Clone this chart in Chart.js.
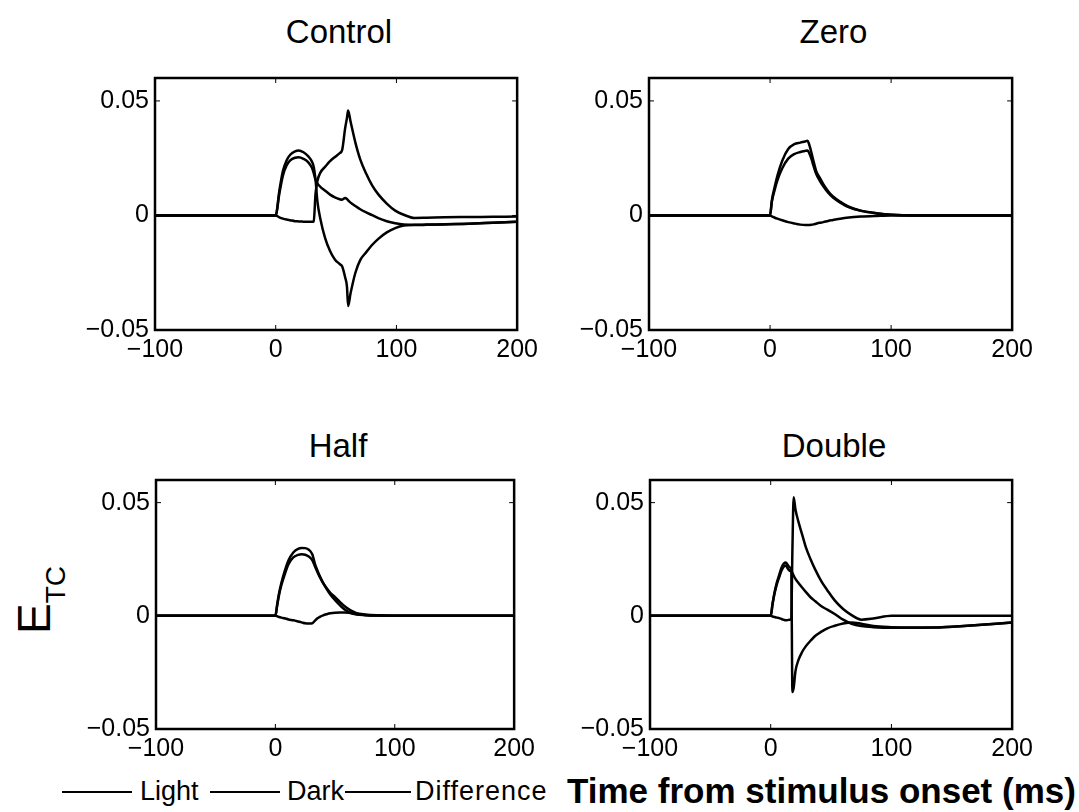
<!DOCTYPE html>
<html>
<head>
<meta charset="utf-8">
<script src="https://cdn.jsdelivr.net/npm/chart.js@4.4.1/dist/chart.umd.min.js"></script>
<style>
	body {
		margin: 0;
		width: 1079px;
		height: 812px;
		background: #fff;
		position: relative;
		overflow: hidden;
		font-family: 'Liberation Sans', Arial, Helvetica, sans-serif;
		color: #000;
	}
	canvas { position: absolute; }
	.title { position: absolute; width: 300px; text-align: center; font-size: 33px; line-height: 36px; }
	.ylab { position: absolute; left: -6px; top: 570px; width: 80px; height: 60px; line-height: 60px; text-align: center; transform: rotate(-90deg); white-space: nowrap; }
	.leg-line { position: absolute; height: 0; border-top: 2px solid #000; }
	.leg-text { position: absolute; font-size: 27px; line-height: 30px; white-space: nowrap; }
	.xtitle { position: absolute; font-size: 35px; font-weight: bold; line-height: 40px; white-space: nowrap; }
</style>
</head>
<body>
<div class="ylab"><span style="font-size:46px">E</span><span style="font-size:28px;position:relative;top:15px">TC</span></div>

<div class="leg-line" style="left:62px;top:791px;width:70px"></div>
<div class="leg-text" style="left:140px;top:776px">Light</div>
<div class="leg-line" style="left:210px;top:791px;width:70px"></div>
<div class="leg-text" style="left:287px;top:776px">Dark</div>
<div class="leg-line" style="left:345px;top:791px;width:66px"></div>
<div class="leg-text" style="left:415px;top:776px;letter-spacing:1px">Difference</div>
<div class="xtitle" style="left:567px;top:771px">Time from stimulus onset (ms)</div>

<script>
// axes
const xTicks = [-100, 0, 100, 200]
const xTickLabels = ['−100', '0', '100', '200']
const yTicks = [-0.05, 0, 0.05]
const yTickLabels = ['−0.05', '0', '0.05']
const seriesNames = ['Light', 'Dark', 'Difference']

// Control
const controlTime = [-100, 0, 3, 6, 9, 12, 16, 19, 23, 27, 30, 31.5, 33, 34.5, 37, 41, 45, 49, 53, 55, 57.5, 59, 60, 62, 66, 70, 75, 80, 85, 92, 99, 106, 115, 125, 140, 160, 180, 200]
const controlLight = [0, 0, 0.0095, 0.0175, 0.0218, 0.0240, 0.0252, 0.0254, 0.0247, 0.0232, 0.0208, 0.0185, 0.0155, 0.0140, 0.0125, 0.0108, 0.0091, 0.0079, 0.0071, 0.0069, 0.0076, 0.0072, 0.0066, 0.0056, 0.0041, 0.0027, 0.0013, 0.0001, -0.0012, -0.0025, -0.0034, -0.0040, -0.0042, -0.0041, -0.0039, -0.0036, -0.0032, -0.0028]
const controlDark = [0, 0, -0.0008, -0.0014, -0.0018, -0.0021, -0.0025, -0.0026, -0.0027, -0.0028, -0.0028, -0.0026, 0.0095, 0.0150, 0.0187, 0.0213, 0.0237, 0.0255, 0.0272, 0.0285, 0.0380, 0.0425, 0.0458, 0.0410, 0.0318, 0.0245, 0.0182, 0.0130, 0.0092, 0.0052, 0.0021, 0.0003, -0.0011, -0.0010, -0.0008, -0.0007, -0.0006, -0.0005]
const controlDiff = [0, 0, 0.0108, 0.0195, 0.0240, 0.0265, 0.0280, 0.0284, 0.0276, 0.0258, 0.0235, 0.0212, 0.0155, 0.0063, -0.0015, -0.0100, -0.0155, -0.0192, -0.0212, -0.0222, -0.0270, -0.0310, -0.0395, -0.0340, -0.0250, -0.0195, -0.0160, -0.0128, -0.0102, -0.0074, -0.0055, -0.0044, -0.0041, -0.0040, -0.0038, -0.0036, -0.0032, -0.0028]

// Zero
const zeroTime = [-100, 0, 1.5, 4, 6, 10, 15, 20, 25, 29, 31, 32, 34, 36, 38, 41, 44, 48, 52, 58, 65, 75, 88, 100, 120, 150, 200]
const zeroLight = [0, 0, 0.0060, 0.0115, 0.0152, 0.0205, 0.0248, 0.0268, 0.0277, 0.0282, 0.0284, 0.0276, 0.0250, 0.0215, 0.0183, 0.0152, 0.0127, 0.0099, 0.0078, 0.0056, 0.0036, 0.0020, 0.0009, 0.0003, 0, 0, 0]
const zeroDark = [0, 0, -0.0004, -0.0010, -0.0014, -0.0021, -0.0029, -0.0035, -0.0040, -0.0042, -0.0042, -0.0042, -0.0041, -0.0039, -0.0036, -0.0032, -0.0029, -0.0024, -0.0020, -0.0014, -0.0009, -0.0005, -0.0002, 0, 0, 0, 0]
const zeroDiff = [0, 0, 0.0066, 0.0128, 0.0172, 0.0238, 0.0290, 0.0311, 0.0318, 0.0323, 0.0326, 0.0315, 0.0278, 0.0235, 0.0196, 0.0165, 0.0137, 0.0106, 0.0083, 0.0060, 0.0038, 0.0021, 0.0010, 0.0003, 0, 0, 0]

// Half
const halfTime = [-100, 0, 1.5, 3, 5, 7.5, 11, 15, 19, 22, 25, 28, 31, 33, 35, 37.5, 40, 43, 46, 50, 54, 58, 63, 68, 75, 85, 100, 120, 150, 200]
const halfLight = [0, 0, 0.0045, 0.0090, 0.0135, 0.0178, 0.0228, 0.0258, 0.0269, 0.0272, 0.0270, 0.0262, 0.0245, 0.0220, 0.0196, 0.0168, 0.0145, 0.0122, 0.0102, 0.0082, 0.0062, 0.0042, 0.0024, 0.0012, 0.0006, 0.0002, 0, 0, 0, 0]
const halfDark = [0, 0, -0.0002, -0.0005, -0.0008, -0.0011, -0.0016, -0.0020, -0.0025, -0.0029, -0.0033, -0.0034, -0.0033, -0.0022, -0.0012, -0.0004, 0.0002, 0.0007, 0.0011, 0.0014, 0.0015, 0.0015, 0.0012, 0.0008, 0.0004, 0.0001, 0, 0, 0, 0]
const halfDiff = [0, 0, 0.0050, 0.0098, 0.0145, 0.0192, 0.0245, 0.0280, 0.0296, 0.0300, 0.0299, 0.0292, 0.0271, 0.0232, 0.0203, 0.0172, 0.0145, 0.0118, 0.0094, 0.0069, 0.0047, 0.0028, 0.0013, 0.0006, 0.0003, 0.0001, 0, 0, 0, 0]

// Double
const doubleTime = [-100, 0, 1.5, 3, 5, 7, 9, 11, 12.5, 14, 15.5, 17, 18, 19, 20.5, 23, 26, 29, 33, 37, 42, 47, 53, 60, 67, 75, 85, 100, 115, 135, 160, 200]
const doubleLight = [0, 0, 0.0050, 0.0094, 0.0138, 0.0170, 0.0200, 0.0218, 0.0222, 0.0210, 0.0200, 0.0196, 0.0190, 0.0178, 0.0163, 0.0145, 0.0125, 0.0106, 0.0082, 0.0064, 0.0042, 0.0027, 0.0008, -0.0017, -0.0035, -0.0045, -0.0050, -0.0053, -0.0053, -0.0052, -0.0045, -0.0030]
const doubleDark = [0, 0, -0.0003, -0.0005, -0.0008, -0.0010, -0.0014, -0.0018, -0.0020, -0.0019, -0.0017, -0.0015, 0.0300, 0.0524, 0.0470, 0.0415, 0.0360, 0.0305, 0.0250, 0.0203, 0.0152, 0.0112, 0.0068, 0.0030, 0.0003, -0.0017, -0.0012, 0, 0, 0, 0, 0]
const doubleDiff = [0, 0, 0.0053, 0.0099, 0.0146, 0.0180, 0.0214, 0.0232, 0.0236, 0.0226, 0.0215, 0.0208, -0.0337, -0.0318, -0.0245, -0.0195, -0.0160, -0.0135, -0.0110, -0.0088, -0.0070, -0.0055, -0.0044, -0.0034, -0.0029, -0.0035, -0.0045, -0.0050, -0.0052, -0.0052, -0.0045, -0.0030]

// plot boxes: left, top, width, height of the axes area
const panels = [
	{ title: 'Control', box: [155, 67, 368, 263], time: controlTime, series: [controlLight, controlDark, controlDiff] },
	{ title: 'Zero', box: [649, 67, 369, 263], time: zeroTime, series: [zeroLight, zeroDark, zeroDiff] },
	{ title: 'Half', box: [156, 469, 364, 260], time: halfTime, series: [halfLight, halfDark, halfDiff] },
	{ title: 'Double', box: [650, 469, 368, 260], time: doubleTime, series: [doubleLight, doubleDark, doubleDiff] },
]

const Y_AXIS_W = 90
const X_AXIS_H = 45
const PAD_TOP = 10
const PAD_RIGHT = 20

// box round the axes with small inward ticks, like the original figure
const framePlugin = {
	id: 'frame',
	afterDraw(chart) {
		const { ctx, chartArea: a, scales } = chart
		ctx.save()
		ctx.strokeStyle = '#000'
		ctx.lineWidth = 2.5
		ctx.strokeRect(a.left, a.top, a.right - a.left, a.bottom - a.top)
		ctx.lineWidth = 1
		ctx.beginPath()
		xTicks.forEach(v => {
			const px = scales.x.getPixelForValue(v)
			ctx.moveTo(px, a.bottom)
			ctx.lineTo(px, a.bottom - 5)
			ctx.moveTo(px, a.top)
			ctx.lineTo(px, a.top + 5)
		})
		yTicks.forEach(v => {
			const py = scales.y.getPixelForValue(v)
			ctx.moveTo(a.left, py)
			ctx.lineTo(a.left + 5, py)
			ctx.moveTo(a.right, py)
			ctx.lineTo(a.right - 5, py)
		})
		ctx.stroke()
		ctx.restore()
	},
}

const tickFont = { family: "'Liberation Sans', Arial, sans-serif", size: 25 }

panels.forEach(p => {
	const [L, T, W, H] = p.box

	const title = document.createElement('div')
	title.className = 'title'
	title.textContent = p.title
	title.style.left = L + W / 2 - 150 + 'px'
	title.style.top = (T < 200 ? 14 : 428) + 'px'
	document.body.appendChild(title)

	const canvas = document.createElement('canvas')
	canvas.width = W + Y_AXIS_W + PAD_RIGHT
	canvas.height = H + PAD_TOP + X_AXIS_H
	canvas.style.left = L - Y_AXIS_W + 'px'
	canvas.style.top = T - PAD_TOP + 'px'
	document.body.appendChild(canvas)

	new Chart(canvas.getContext('2d'), {
		type: 'line',
		data: {
			datasets: p.series.map((vals, i) => ({
				label: seriesNames[i],
				data: p.time.map((t, j) => ({ x: t, y: vals[j] })),
				borderColor: '#000',
				borderWidth: 2.5,
				pointRadius: 0,
				fill: false,
				cubicInterpolationMode: 'monotone',
			})),
		},
		options: {
			responsive: false,
			animation: false,
			devicePixelRatio: 1,
			layout: { padding: { top: PAD_TOP, right: PAD_RIGHT, left: 0, bottom: 0 } },
			plugins: { legend: { display: false }, tooltip: { enabled: false } },
			scales: {
				x: {
					type: 'linear',
					min: -100,
					max: 200,
					grid: { display: false, drawTicks: false },
					border: { display: false },
					ticks: {
						stepSize: 100,
						autoSkip: false,
						maxRotation: 0,
						color: '#000',
						font: tickFont,
						padding: 5,
						callback: v => xTickLabels[xTicks.indexOf(v)],
					},
					afterFit: s => { s.height = X_AXIS_H },
				},
				y: {
					type: 'linear',
					min: -0.05,
					max: 0.06,
					grid: { display: false, drawTicks: false },
					border: { display: false },
					afterBuildTicks: s => { s.ticks = yTicks.map(v => ({ value: v })) },
					ticks: {
						autoSkip: false,
						color: '#000',
						font: tickFont,
						padding: 6,
						callback: v => yTickLabels[yTicks.indexOf(v)],
					},
					afterFit: s => { s.width = Y_AXIS_W },
				},
			},
		},
		plugins: [framePlugin],
	})
})
</script>
</body>
</html>
